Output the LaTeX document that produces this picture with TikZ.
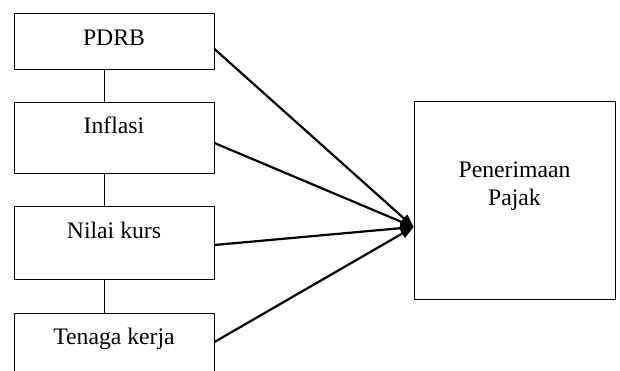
\documentclass[tikz,border=0pt]{standalone}
\usepackage{fontspec}
\setmainfont{Liberation Serif}
\usepackage{tikz}
\usetikzlibrary{arrows.meta}
\tikzset{
  box/.style={draw=black, line width=0.9pt, minimum width=200pt, inner sep=0pt},
  lab/.style={font=\fontsize{23.7}{28.4}\selectfont, inner sep=0pt},
  link/.style={draw=black, line width=0.8pt},
  arr/.style={draw=black, line width=2.2pt, -{Triangle[length=13pt,width=10pt]}},
}

\begin{document}
\begin{tikzpicture}[x=1pt,y=-1pt]
  \clip (0,0) rectangle (620,371);
  \fill[white] (0,0) rectangle (620,371);
  % left column
  \node[box,minimum height=56pt,label={[lab,anchor=base,yshift=-33pt]north:PDRB}] (pdrb) at (114,41) {};
  \node[box,minimum height=71pt,label={[lab,anchor=base,yshift=-32pt]north:Inflasi}] (inflasi) at (114,137.5) {};
  \node[box,minimum height=73pt,label={[lab,anchor=base,yshift=-33pt]north:Nilai kurs}] (kurs) at (114,242.5) {};
  \node[box,minimum height=72pt,label={[lab,anchor=base,yshift=-32pt]north:Tenaga kerja}] (tenaga) at (114,349) {};
  % right box
  \node[box,minimum width=201pt,minimum height=198pt,
        label={[lab,align=center,anchor=center,yshift=14pt]center:Penerimaan\\Pajak}] (pajak) at (514.5,200) {};
  \foreach \A/\B in {pdrb/inflasi,inflasi/kurs,kurs/tenaga}
    \draw[link] ([xshift=-10pt]\A.south) -- ([xshift=-10pt]\B.north);
  \foreach \A/\d in {pdrb/-8,inflasi/-5.5,kurs/-2.5,tenaga/7}
    \draw[arr] ([yshift=\d pt]\A.east) -- ([yshift=-27pt]pajak.west);
\end{tikzpicture}
\end{document}
